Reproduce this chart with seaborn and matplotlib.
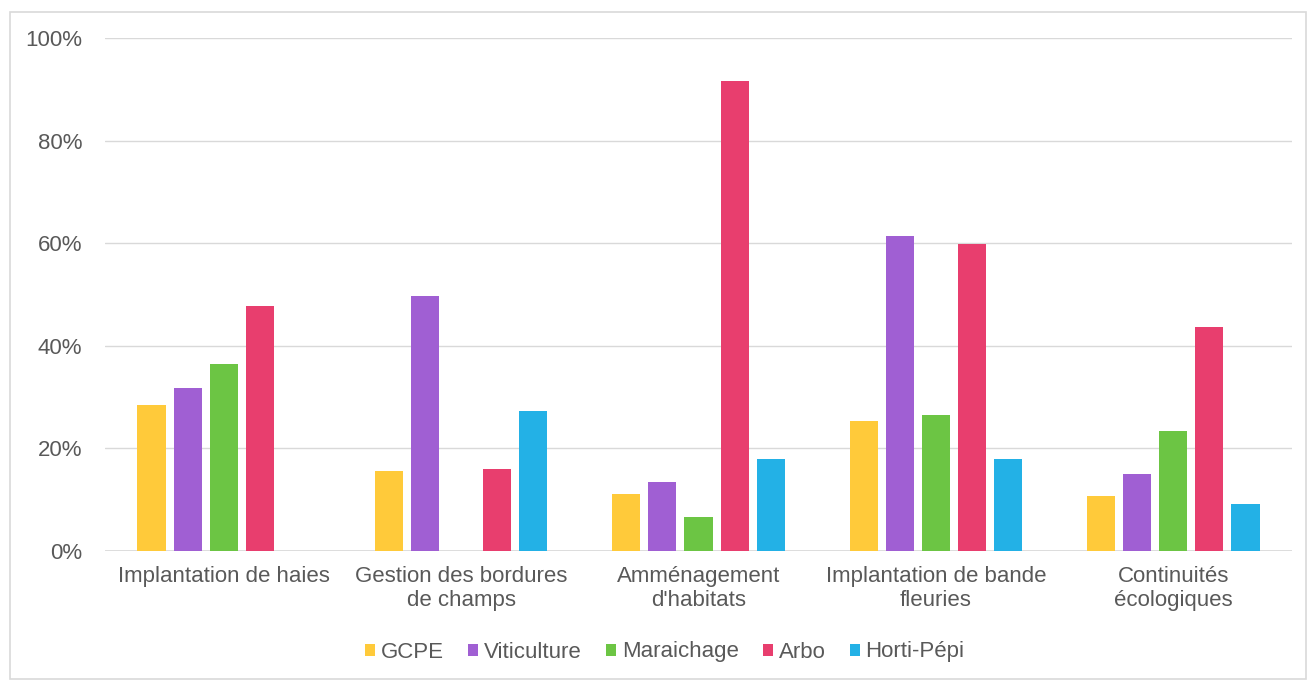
import pandas as pd
import matplotlib.pyplot as plt
import seaborn as sns
from matplotlib.patches import Patch, Rectangle
from matplotlib.ticker import PercentFormatter

# données
categories = ['Implantation de haies', 'Gestion des bordures\nde champs', 'Amménagement\nd\'habitats',
              'Implantation de bande\nfleuries', 'Continuités\nécologiques']
filieres = ['GCPE', 'Viticulture', 'Maraichage', 'Arbo', 'Horti-Pépi']
gcpe = [28.5, 15.6, 11.2, 25.3, 10.8]
viticulture = [31.8, 49.8, 13.5, 61.5, 15.0]
maraichage = [36.5, 0, 6.7, 26.5, 23.3]
arbo = [47.8, 16.0, 91.7, 59.8, 43.7]
horti = [0, 27.3, 17.9, 17.9, 9.1]
couleurs = ['#FFCA3A', '#A05FD3', '#6CC544', '#E83E6E', '#23B1E6']

series = [gcpe, viticulture, maraichage, arbo, horti]
rows = []
for f, vals in zip(filieres, series):
    for c, v in zip(categories, vals):
        rows.append({'categorie': c, 'filiere': f, 'valeur': v})
df = pd.DataFrame(rows)

sns.set_style('white')
plt.rcParams['font.family'] = ['Liberation Sans', 'DejaVu Sans']

fig = plt.figure(figsize=(13.09, 6.8), dpi=100)
ax = fig.add_axes([105 / 1309, 1 - 551 / 680, 1187 / 1309, 513 / 680])

sns.barplot(data=df, x='categorie', y='valeur', hue='filiere', order=categories, hue_order=filieres,
            palette=couleurs, width=0.76, gap=0.22, linewidth=0, saturation=1, legend=False, ax=ax)

ax.set_ylim(0, 100)
ax.set_yticks([0, 20, 40, 60, 80, 100])
ax.yaxis.set_major_formatter(PercentFormatter(decimals=0))
ax.grid(axis='y', color='#d9d9d9', linewidth=1)
ax.set_axisbelow(True)
for s in ax.spines.values():
    s.set_visible(False)
ax.axhline(0, color='#d9d9d9', linewidth=1.2, zorder=0)
ax.tick_params(axis='both', length=0, labelsize=16, labelcolor='#595959')
ax.tick_params(axis='y', pad=16.5)
ax.tick_params(axis='x', pad=11)
ax.set_xlabel('')
ax.set_ylabel('')

handles = [Patch(facecolor=c, edgecolor='none', label=f) for c, f in zip(couleurs, filieres)]
fig.legend(handles=handles, loc='center', bbox_to_anchor=(665 / 1309, 1 - 652 / 680), ncol=5,
           frameon=False, fontsize=16, handlelength=0.45, handleheight=0.45, handletextpad=0.25,
           columnspacing=1.1, labelcolor='#595959')

# cadre gris autour du graphique
fig.patches.append(Rectangle((10 / 1309, 1 / 680), 1296 / 1309, 667 / 680, transform=fig.transFigure,
                             fill=False, edgecolor='#d9d9d9', linewidth=1.2))

fig.savefig('out.png', dpi=100)
